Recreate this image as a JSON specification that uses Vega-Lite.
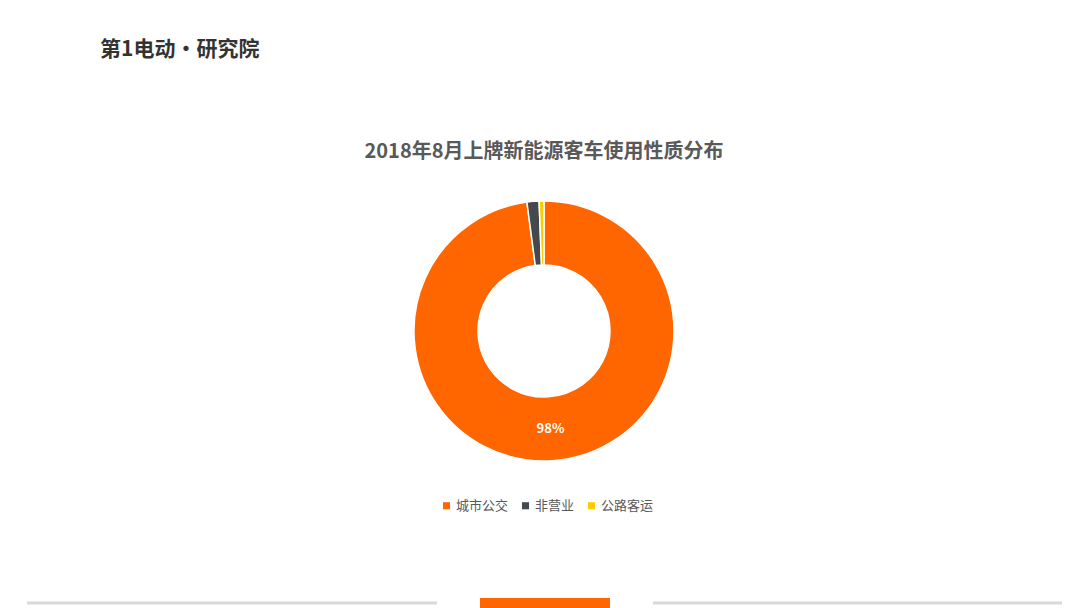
{
  "$schema": "https://vega.github.io/schema/vega-lite/v6.json",
  "width": 1072,
  "height": 554,
  "autosize": {"type": "none"},
  "padding": {"left": 8, "top": 54, "right": 0, "bottom": 0},
  "background": "white",
  "config": {"view": {"stroke": null}, "font": "Noto Sans CJK SC"},
  "title": {
    "text": "2018年8月上牌新能源客车使用性质分布",
    "anchor": "middle",
    "frame": "group",
    "orient": "top",
    "offset": 0,
    "baseline": "middle",
    "dy": 133,
    "fontSize": 20,
    "fontWeight": "bold",
    "color": "#595959",
    "font": "Noto Sans CJK SC"
  },
  "data": {
    "values": [
      {"type": "城市公交", "share": 0.979, "order": 1},
      {"type": "非营业", "share": 0.015, "order": 2},
      {"type": "公路客运", "share": 0.006, "order": 3}
    ]
  },
  "layer": [
    {
      "mark": {"type": "arc", "outerRadius": 130, "innerRadius": 66, "stroke": "white", "strokeWidth": 1.5},
      "encoding": {
        "theta": {"field": "share", "type": "quantitative", "stack": true},
        "order": {"field": "order", "type": "quantitative"},
        "color": {
          "field": "type",
          "type": "nominal",
          "sort": ["城市公交", "非营业", "公路客运"],
          "scale": {"domain": ["城市公交", "非营业", "公路客运"], "range": ["#FF6600", "#44494D", "#FFCC00"]},
          "legend": {
            "title": null,
            "orient": "none",
            "direction": "horizontal",
            "legendX": 432,
            "legendY": 445,
            "symbolType": "square",
            "symbolSize": 50,
            "symbolStrokeWidth": 0,
            "labelFontSize": 13,
            "labelColor": "#595959",
            "labelFont": "Noto Sans CJK SC",
            "columnPadding": 10,
            "labelOffset": 3
          }
        }
      }
    },
    {
      "mark": {"type": "text", "radius": 98, "color": "white", "fontWeight": "bold", "fontSize": 13, "font": "Noto Sans CJK SC"},
      "encoding": {
        "theta": {"field": "share", "type": "quantitative", "stack": true},
        "order": {"field": "order", "type": "quantitative"},
        "text": {
          "condition": {"test": "datum.type === '城市公交'", "field": "share", "type": "quantitative", "format": ".0%"},
          "value": ""
        }
      }
    },
    {
      "data": {"values": [{"logo": "第1电动·研究院"}]},
      "mark": {"type": "text", "align": "left", "baseline": "middle", "fontSize": 21, "fontWeight": "bold", "color": "#333333", "font": "Noto Sans CJK SC"},
      "encoding": {
        "x": {"value": 92},
        "y": {"value": -4},
        "text": {"field": "logo", "type": "nominal"}
      }
    },
    {
      "data": {"values": [{"x": 19, "x2": 429}, {"x": 645, "x2": 1054}]},
      "mark": {"type": "rule", "color": "#D9D9D9", "strokeWidth": 3},
      "encoding": {
        "x": {"field": "x", "type": "quantitative", "scale": null},
        "x2": {"field": "x2"},
        "y": {"value": 549}
      }
    },
    {
      "data": {"values": [{"bar": 1}]},
      "mark": {"type": "rect", "color": "#FF6600"},
      "encoding": {
        "x": {"value": 472},
        "x2": {"value": 602},
        "y": {"value": 544},
        "y2": {"value": 554}
      }
    }
  ]
}
